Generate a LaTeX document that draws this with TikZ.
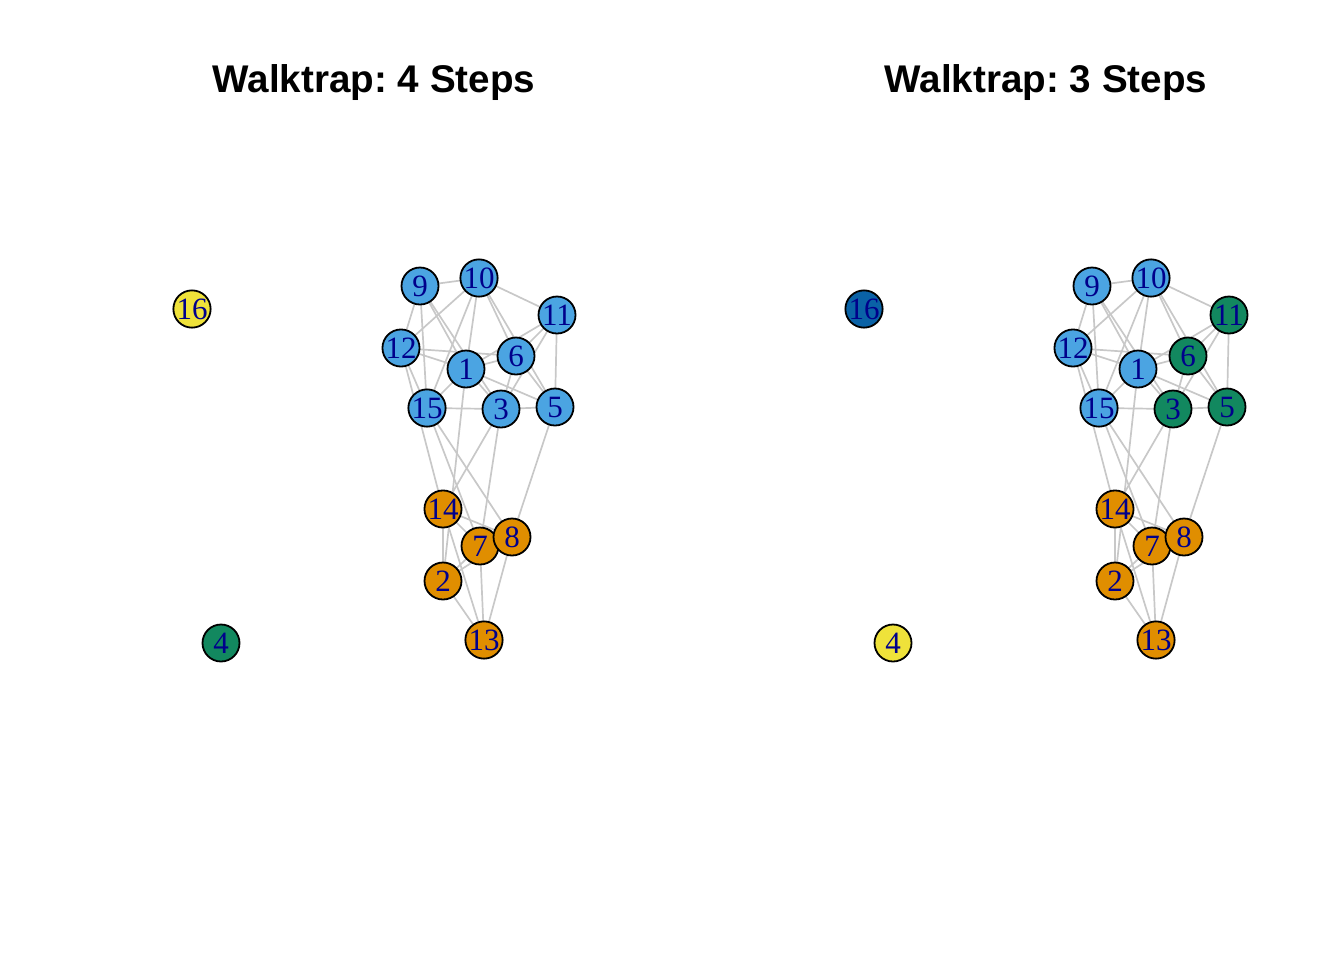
\documentclass[tikz,border=0pt]{standalone}
\usepackage{fontspec}
\setmainfont{Liberation Serif}
\newfontfamily\titlefont{Liberation Sans}
\frenchspacing
\pgfdeclarelayer{bg}
\pgfsetlayers{bg,main}
\definecolor{cblue}{HTML}{4BA4E2}
\definecolor{corange}{HTML}{E08E00}
\definecolor{cgreen}{HTML}{12885F}
\definecolor{cyellow}{HTML}{EFE23A}
\definecolor{cdark}{HTML}{0A62A6}
\definecolor{labelblue}{HTML}{00008B}
\definecolor{edgegray}{HTML}{C8C8C8}
\begin{document}
\begin{tikzpicture}[x=0.5pt,y=-0.5pt,
  vtx/.style={circle,draw=black,line width=0.9pt,minimum size=18.5pt,inner sep=0pt,
    text=labelblue,font=\fontsize{15.5}{15.5}\selectfont},
  edge/.style={draw=edgegray,line width=0.85pt},
  ttl/.style={font=\titlefont\bfseries\fontsize{19.3}{19.3}\selectfont,anchor=base}]
\useasboundingbox (0,0) rectangle (1344,960);
\node[ttl] (t1) at (374,92) {Walktrap: 4 Steps};
\node[ttl] (t2) at (1046,92) {Walktrap: 3 Steps};
% left graph
\foreach \i/\x/\y/\c in {1/466/369/cblue,2/443/581/corange,3/501/409/cblue,4/221/643/cgreen,
  5/555/407/cblue,6/516/356/cblue,7/480/546/corange,8/512/537/corange,9/420/286/cblue,
  10/479/278/cblue,11/557/315/cblue,12/401/348/cblue,13/484/640/corange,14/443/509/corange,
  15/427/408/cblue,16/192/309/cyellow}
  \node[vtx,fill=\c] (a\i) at (\x,\y) {\i};
% right graph
\foreach \i/\x/\y/\c in {1/466/369/cblue,2/443/581/corange,3/501/409/cgreen,4/221/643/cyellow,
  5/555/407/cgreen,6/516/356/cgreen,7/480/546/corange,8/512/537/corange,9/420/286/cblue,
  10/479/278/cblue,11/557/315/cgreen,12/401/348/cblue,13/484/640/corange,14/443/509/corange,
  15/427/408/cblue,16/192/309/cdark}
  \node[vtx,fill=\c] (b\i) at ({\x+672},\y) {\i};
\begin{pgfonlayer}{bg}
\foreach \u/\v in {9/10,9/12,9/15,9/1,9/3,
  10/11,10/12,10/15,10/1,10/6,10/5,
  11/6,11/1,11/3,11/5,
  12/6,12/1,12/15,12/14,
  1/6,1/15,1/5,1/3,1/2,
  6/3,6/5,
  15/3,15/7,15/8,
  3/5,3/14,3/7,
  5/8,
  14/7,14/8,14/2,14/13,
  7/2,2/8,7/13,8/13,2/13}
{
  \draw[edge] (a\u.center) -- (a\v.center);
  \draw[edge] (b\u.center) -- (b\v.center);
}
\end{pgfonlayer}
\end{tikzpicture}
\end{document}
